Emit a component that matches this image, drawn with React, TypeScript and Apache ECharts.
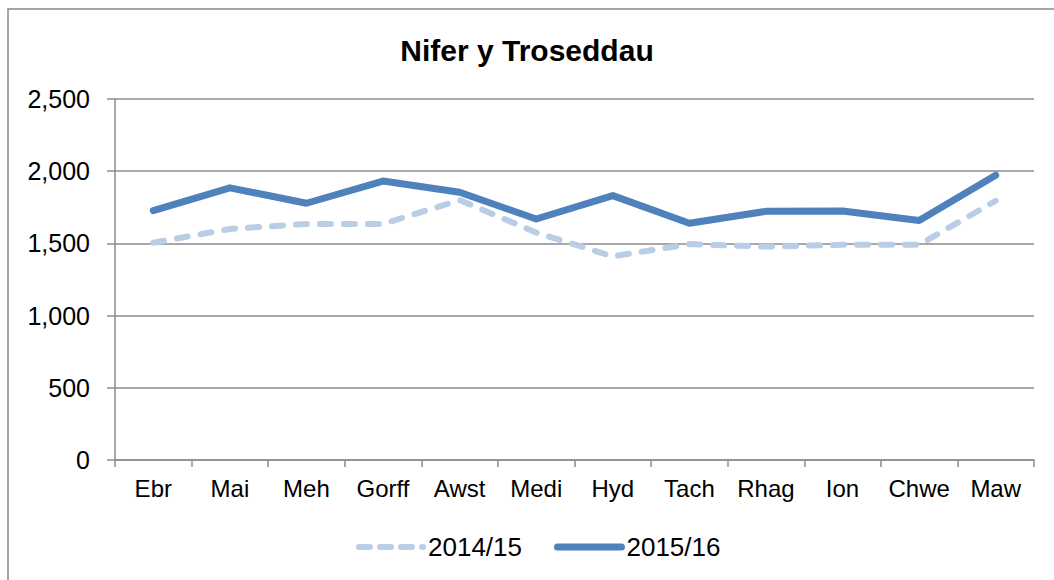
import React, { useEffect, useRef } from "react";
import * as echarts from "echarts";

const categories = ["Ebr", "Mai", "Meh", "Gorff", "Awst", "Medi", "Hyd", "Tach", "Rhag", "Ion", "Chwe", "Maw"];
const series2014 = [1505, 1600, 1635, 1635, 1800, 1575, 1410, 1495, 1478, 1490, 1490, 1795];
const series2015 = [1727, 1885, 1778, 1932, 1854, 1669, 1831, 1639, 1722, 1725, 1658, 1972];
const seriesNames = ["2014/15", "2015/16"];
const titleText = "Nifer y Troseddau";

const FONT = "'Liberation Sans', Arial, sans-serif";
const GRID = "#8c8c8c";
const LIGHT = "#b9cde5";
const DARK = "#4f81bd";

export default function App() {
  const ref = useRef<HTMLDivElement>(null);
  useEffect(() => {
    if (!ref.current) return;
    const chart = echarts.init(ref.current, undefined, { renderer: "svg" });
    chart.setOption({
      animation: false,
      backgroundColor: "#ffffff",
      title: {
        text: titleText,
        left: "center",
        top: 30,
        textStyle: { fontFamily: FONT, fontSize: 30, fontWeight: "bold", color: "#000" },
      },
      legend: {
        data: [
          {
            name: seriesNames[0],
            lineStyle: { color: LIGHT, width: 6, type: [11, 10], cap: "round" },
          },
          {
            name: seriesNames[1],
            lineStyle: { color: DARK, width: 7, type: "solid", cap: "round" },
          },
        ],
        left: 351,
        top: 529,
        itemWidth: 64,
        itemHeight: 30,
        itemGap: 32,
        itemStyle: { opacity: 0 },
        textStyle: { fontFamily: FONT, fontSize: 26, color: "#000" },
      },
      grid: { left: 115, right: 20, top: 99, bottom: 120, containLabel: false },
      xAxis: {
        type: "category",
        data: categories,
        boundaryGap: true,
        axisLine: { lineStyle: { color: GRID, width: 1.5 } },
        axisTick: { show: true, length: 7, lineStyle: { color: GRID, width: 1.5 } },
        axisLabel: { fontFamily: FONT, fontSize: 24, color: "#000", margin: 16, interval: 0 },
      },
      yAxis: {
        type: "value",
        min: 0,
        max: 2500,
        interval: 500,
        axisLine: { show: true, lineStyle: { color: GRID, width: 1.5 } },
        axisTick: { show: true, length: 8, lineStyle: { color: GRID, width: 1.5 } },
        splitLine: { lineStyle: { color: GRID, width: 1.5 } },
        axisLabel: {
          fontFamily: FONT,
          fontSize: 25,
          color: "#000",
          margin: 25,
          formatter: (v: number) => v.toLocaleString("en-US"),
        },
      },
      series: [
        {
          name: seriesNames[0],
          type: "line",
          data: series2014,
          symbol: "none",
          color: LIGHT,
          lineStyle: { color: LIGHT, width: 6, type: [11, 13], cap: "round", join: "round" },
          z: 2,
        },
        {
          name: seriesNames[1],
          type: "line",
          data: series2015,
          symbol: "none",
          color: DARK,
          lineStyle: { color: DARK, width: 7, cap: "round", join: "round" },
          z: 3,
        },
      ],
      graphic: [
        {
          type: "rect",
          shape: { x: 8, y: 9, width: 1200, height: 800 },
          style: { fill: "none", stroke: "#888888", lineWidth: 1.5 },
          silent: true,
        },
      ],
    });
    return () => chart.dispose();
  }, []);
  return (
    <div
      ref={ref}
      style={{ position: "fixed", left: 0, top: 0, width: 1054, height: 580 }}
    />
  );
}
